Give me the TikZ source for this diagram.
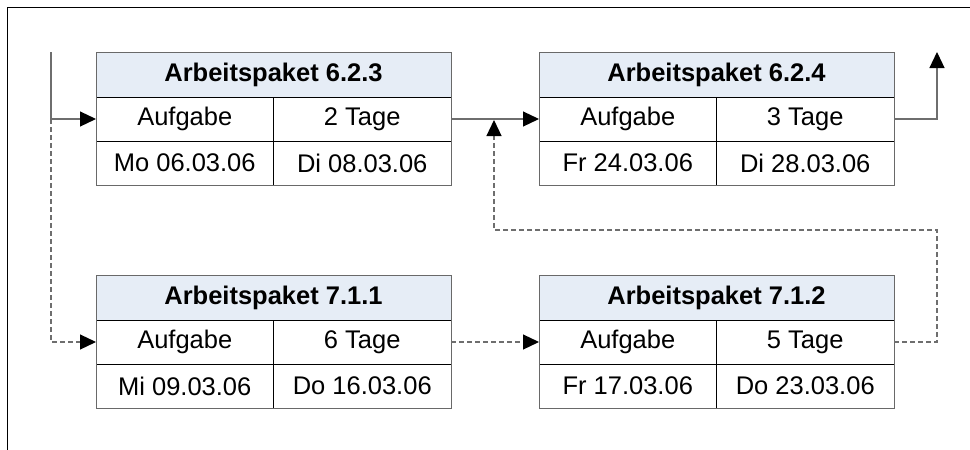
\documentclass[tikz,border=0pt]{standalone}
\usepackage{fontspec}
\setmainfont{Liberation Sans}
\usetikzlibrary{arrows.meta}
\definecolor{kheadfill}{RGB}{230,237,246}
\definecolor{kline}{RGB}{110,110,110}
\definecolor{kframe}{RGB}{105,105,105}
\tikzset{
  kcell/.style={draw=black,line width=1pt,minimum width=177.5pt,minimum height=44pt,inner sep=0pt,outer sep=0pt,anchor=north west,font=\fontsize{25.5}{30}\selectfont},
  khead/.style={kcell,fill=kheadfill,minimum width=355pt,minimum height=45pt,font=\fontsize{25.5}{30}\selectfont\bfseries},
  kconn/.style={draw=kline,line width=1.2pt,-{Triangle[length=16pt,width=15pt,color=black]}},
  kdash/.style={kconn,dash pattern=on 5pt off 3pt},
}
\begin{document}
\begin{tikzpicture}[x=1pt,y=-1pt]
\pgfmathsetmacro{\kcw}{177.5}
\pgfmathsetmacro{\khh}{45}
\pgfmathsetmacro{\krh}{44}
\useasboundingbox (0,0) rectangle (970,450);
\draw[line width=1pt] (7,450) |- (970,7);
\foreach \kn/\kx/\ky/\knum/\kdays/\kstart/\kend in {ap623/96/52/6.2.3/2/Mo 06.03.06/Di 08.03.06,ap624/539/52/6.2.4/3/Fr 24.03.06/Di 28.03.06,ap711/96/275/7.1.1/6/Mi 09.03.06/Do 16.03.06,ap712/539/275/7.1.2/5/Fr 17.03.06/Do 23.03.06}{
  \node[khead] (\kn-h) at (\kx,\ky) {Arbeitspaket \knum};
  \node[kcell] (\kn-a) at (\kx,\ky+\khh) {Aufgabe};
  \node[kcell] (\kn-b) at (\kx+\kcw,\ky+\khh) {\kdays\ Tage};
  \node[kcell] (\kn-c) at (\kx,\ky+\khh+\krh) {\kstart};
  \node[kcell] (\kn-d) at (\kx+\kcw,\ky+\khh+\krh) {\kend};
  \draw[kframe,line width=1pt] (\kn-h.north west) rectangle (\kn-d.south east);
}
\coordinate (kin) at (51,52);
\coordinate (kout) at (937,52);
\coordinate (kturn) at (937,230);
\coordinate (kjoin) at (494,120);
\draw[kconn] (kin) |- (ap623-a.west);
\draw[kdash] (kin |- ap623-a.west) |- (ap711-a.west);
\draw[kconn] (ap623-b.east) -- (ap624-a.west);
\draw[kconn] (ap624-b.east) -| (kout);
\draw[kdash] (ap711-b.east) -- (ap712-a.west);
\draw[kdash] (ap712-b.east) -| (kturn) -| (kjoin);
\end{tikzpicture}
\end{document}
